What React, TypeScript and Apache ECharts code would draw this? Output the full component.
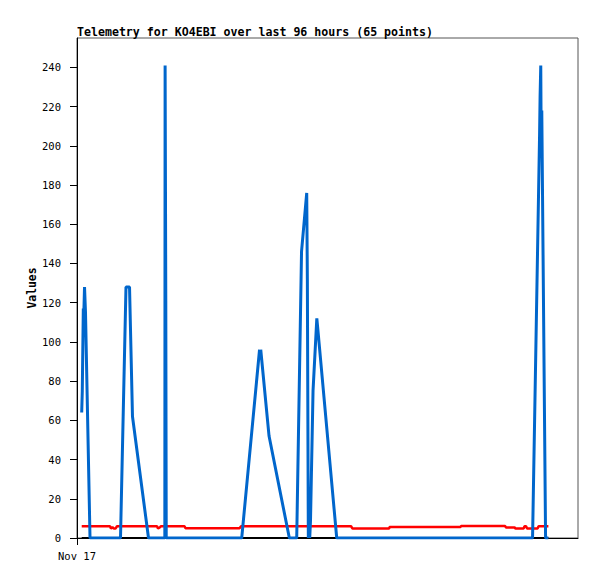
import React, { useEffect, useRef } from "react";
import * as echarts from "echarts";

// time axis in hours from the left edge of the plot
const X_MAX = 103.2;
const xTickValues = [0];
const xTickLabels = ["Nov 17"];
const yTickValues = [0, 20, 40, 60, 80, 100, 120, 140, 160, 180, 200, 220, 240];

// blue channel
const blueT = [
  0.97, 1.09, 1.3, 1.38, 1.55, 1.75, 2.68, 8.96, 10.09, 10.82, 11.43, 14.73,
  18.09, 18.15, 18.29, 18.38, 33.93, 37.6, 37.74, 37.85, 39.56, 43.74, 45.26,
  46.25, 47.32, 47.45, 47.65, 47.8, 47.94, 48.1, 48.62, 49.4, 49.55, 53.5,
  93.84, 95.28, 95.39, 95.53, 95.63, 95.74, 96.52, 97.1,
];
const blueV = [
  64, 75, 117, 112, 128, 115, 0, 0, 128, 128, 62, 0,
  0, 241, 121, 0, 0, 96, 92, 96, 52, 0, 0,
  146, 176, 132, 0, 9, 0, 9, 75, 112, 108, 0,
  0, 205, 225, 241, 195, 218, 0, 0,
];

// red channel
const redT = [
  0.97, 6.8, 7.0, 7.31, 7.62, 7.93, 8.24, 16.48, 16.69, 17.1, 17.31, 22.15,
  22.35, 33.48, 33.79, 56.45, 56.76, 64.28, 64.38, 79.01, 79.11, 88.17, 88.38,
  90.13, 90.34, 91.99, 92.19, 92.5, 92.71, 94.87, 95.08, 97.1,
];
const redV = [
  6, 6, 4.8, 5.5, 4.8, 4.8, 6, 6, 4.8, 5.5, 6, 6,
  5, 5, 6, 6, 4.8, 4.8, 5.6, 5.6, 6.1, 6.1, 5.4,
  5.4, 4.8, 4.8, 6, 6, 4.8, 4.8, 6, 6,
];

// black channel
const blackT = [0.97, 97.1];
const blackV = [0, 0];

const pairs = (t: number[], v: number[]) => t.map((x, i) => [x, v[i]]);

const MONO = "'DejaVu Sans Mono', 'Liberation Mono', monospace";

export default function App() {
  const ref = useRef<HTMLDivElement>(null);
  useEffect(() => {
    document.body.style.margin = "0";
    if (!ref.current) return;
    const chart = echarts.init(ref.current, null, { renderer: "svg" });
    chart.setOption({
      animation: false,
      backgroundColor: "#ffffff",
      title: {
        text: "Telemetry for KO4EBI over last 96 hours (65 points)",
        left: 77,
        top: 26,
        padding: 0,
        textStyle: {
          fontFamily: MONO,
          fontWeight: "bold",
          fontSize: 11.6,
          color: "#000",
        },
      },
      grid: {
        left: 77,
        top: 38,
        right: 19,
        bottom: 41,
        show: true,
        borderColor: "#555",
        borderWidth: 1,
        backgroundColor: "transparent",
      },
      xAxis: {
        type: "value",
        min: 0,
        max: X_MAX,
        axisLine: { show: true, onZero: false, lineStyle: { color: "#000", width: 1 } },
        axisTick: { show: true, customValues: xTickValues, length: 7, lineStyle: { color: "#000" } },
        axisLabel: {
          customValues: xTickValues,
          formatter: (val: number) => {
            const i = xTickValues.indexOf(val);
            return i >= 0 ? xTickLabels[i] : "";
          },
          fontFamily: MONO,
          fontSize: 10.5,
          color: "#000",
          margin: 12,
        },
        splitLine: { show: false },
      },
      yAxis: {
        type: "value",
        min: 0,
        max: 255,
        interval: 20,
        name: "Values",
        nameLocation: "middle",
        nameGap: 40,
        nameMoveOverlap: false,
        nameTextStyle: {
          fontFamily: MONO,
          fontWeight: "bold",
          fontSize: 11.4,
          color: "#000",
        },
        axisLine: { show: true, lineStyle: { color: "#000", width: 1 } },
        axisTick: { show: true, customValues: yTickValues, length: 7, lineStyle: { color: "#000" } },
        axisLabel: {
          customValues: yTickValues,
          fontFamily: MONO,
          fontSize: 10.5,
          color: "#000",
          margin: 16,
        },
        splitLine: { show: false },
      },
      series: [
        {
          type: "line",
          data: pairs(blackT, blackV),
          showSymbol: false,
          lineStyle: { color: "#000", width: 2 },
          z: 2,
        },
        {
          type: "line",
          data: pairs(redT, redV),
          showSymbol: false,
          lineStyle: { color: "#ff0000", width: 2.5 },
          z: 3,
        },
        {
          type: "line",
          data: pairs(blueT, blueV),
          showSymbol: false,
          lineStyle: { color: "#0066cc", width: 3 },
          z: 4,
        },
      ],
    });
    return () => chart.dispose();
  }, []);
  return (
    <div
      ref={ref}
      style={{ position: "fixed", left: 0, top: 0, width: 597, height: 579, background: "#fff" }}
    />
  );
}
